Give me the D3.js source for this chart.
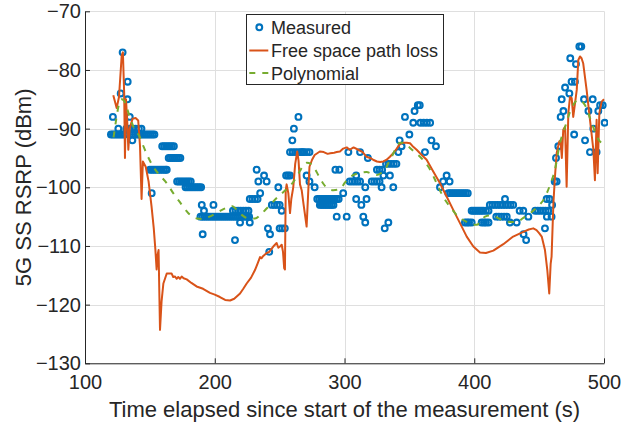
<!DOCTYPE html>
<html>
<head>
<meta charset="utf-8">
<title>5G SS RSRP</title>
<script src="https://d3js.org/d3.v7.min.js"></script>
<style>
  body { margin: 0; background: #fff; }
  text { font-family: "Liberation Sans", Arial, sans-serif; fill: #262626; }
</style>
</head>
<body>
<svg id="chart" width="636" height="426"></svg>
<script>
// ---- data ----
var xTicks = [100, 200, 300, 400, 500];
var yTicks = [-130, -120, -110, -100, -90, -80, -70];

// measured samples [time (s), RSRP (dBm)]
var measured = [
  [121.5,-88],[120,-91],[121.5,-91],[123,-91],[124.5,-91],[126,-91],[127.5,-91],[129,-91],[130.5,-91],
  [125.7,-90],[127.5,-84],[129,-77],[132.7,-85],[132.9,-82],[134.5,-88],[131.8,-90],[134,-90],[136.5,-90],
  [139,-90],[141.5,-90],[143.5,-90],[136.5,-92],[137,-91],[138.5,-91],[140,-91],[141.5,-91],[143,-91],
  [144.5,-91],[146,-91],[147.5,-91],[149,-91],[150.5,-91],[152,-91],[153.5,-91],
  [150,-97],[151.5,-97],[153,-97],[154.5,-97],[156,-97],[157.5,-97],[159,-97],[160.5,-97],[162,-97],[163,-97],
  [151.4,-101],
  [159.5,-93],[161,-93],[162.5,-93],[164,-93],[165.5,-93],[167,-93],[168.5,-93],
  [164.5,-95],[166,-95],[167.5,-95],[169,-95],[170.5,-95],[172,-95],[173.5,-95],
  [171,-99],[172.5,-99],[174,-99],[175.5,-99],[177,-99],[178.5,-99],[180,-99],[181.5,-99],
  [177.5,-100],[179,-100],[180.5,-100],[182,-100],[183.5,-100],[185,-100],[186.5,-100],[188,-100],[189.5,-100],
  [190,-103],[199,-103],[191.7,-104],[190.7,-108],[215.6,-109],
  [189,-105],[190.5,-105],[192,-105],[193.5,-105],[195,-105],[196.5,-105],[198,-105],[199.5,-105],[201,-105],
  [202.5,-105],[204,-105],[205.5,-105],[207,-105],[208.5,-105],[210,-105],[211.5,-105],[213,-105],[214.5,-105],
  [216,-105],[217.5,-105],[219,-105],[220.5,-105],[222,-105],[223.5,-105],[225,-105],[226.5,-105],
  [214,-104],[216,-104],[218,-104],[220,-104],[222,-104],[224,-104],[226,-104],
  [219.5,-106],[227,-106],
  [232.3,-97],[238,-98],[233.6,-99],[240,-99],[227,-102],[229,-102],[231,-102],[233,-102],[235,-101],
  [244,-103],[246,-103],[248,-103],[250,-103],[249,-100],[255,-98],[256.5,-98],[258,-98],[251.6,-104],
  [250,-107],[252,-107],[254,-107],[241,-107],[242.6,-108],[242,-111],
  [258,-94],[260,-94],[262,-94],[264,-94],[266,-94],[268,-94],[259.8,-92],[261,-90],[264.5,-88],[270.8,-98],
  [267,-94],[269,-94],[271,-94],[273,-94],[273,-99],[277,-100],
  [279,-102],[280.5,-102],[282,-102],[283.5,-102],[285,-102],[286.5,-102],[288,-102],[289.5,-102],[291,-102],
  [292.5,-102],[294,-102],[295.5,-102],
  [281,-103],[282.5,-103],[284,-103],[285.5,-103],[287,-103],[288.5,-103],[290,-103],[291.5,-103],
  [294,-105],[301.7,-105],[299,-101],[293,-97],[296,-97],[303,-94],[312,-94],[318,-95],
  [304,-99],[306,-99],[308,-99],[310,-99],[312,-99],[309,-98],[309,-102],[313,-103],[317,-102],
  [314.5,-105],[316,-106],[316,-100],[321,-99],[323,-99],[325,-99],[327,-99],[325,-97],[327,-97],[329,-97],
  [328.6,-100],[330,-98],[335,-98],[337.6,-100],[332,-96],[334,-96],[336,-96],[338,-96],[340,-96],
  [333.8,-106],[331,-107],[341.5,-94],[342.5,-92],[344,-93],[350,-91],[346.6,-88],[354,-87],[356.5,-86],
  [358,-86],[353,-89],[358.5,-89],[361,-89],[363.5,-89],[366,-89],[367,-92],[370.5,-93],[362,-94],
  [378.7,-98],[376,-99],[381,-99],[373.6,-100],
  [380,-101],[381.5,-101],[383,-101],[384.5,-101],[386,-101],[387.5,-101],[389,-101],[390.5,-101],
  [392,-101],[393.5,-101],[395,-101],
  [398,-104],[399.5,-104],[401,-104],[402.5,-104],[404,-104],[405.5,-104],[407,-104],[409,-104],
  [392.8,-106],[394.5,-106],[396,-106],[398,-106],[405.7,-106],[407.5,-106],[409,-106],[411,-106],
  [412,-103],[414,-103],[416,-103],[418,-103],[420,-103],[422,-103],[424,-103],[426,-103],[428,-103],[430,-103],
  [423.7,-102],[411,-104],
  [417,-105],[419,-105],[421,-105],[423,-105],[425,-105],
  [427.5,-106],[432.7,-106],[435,-104],[437.8,-104],[441.7,-105],[447,-104],[449,-104],[451,-104],[453,-104],
  [455,-104],[457,-104],[456,-105],[438,-108],[440,-109],[454.5,-107],[460,-103],[458,-102],
  [455.8,-102],[459.6,-105],[462,-99],[463.5,-99],[463,-95],[464.8,-93],[466.6,-88],[467.4,-85],
  [468.7,-87],[470,-83],[473.3,-84],[475,-82],[477.6,-82],[474,-78],[478.4,-79],[481,-76],[482.5,-76],
  [477,-91],[485.4,-92],[484.6,-85],[488,-87],[489.2,-94],[494.3,-94],[491.3,-85],[491.8,-90],
  [495.6,-87],[497,-86],[499,-86],[500.5,-89]
];

// free space path loss model [time (s), RSRP (dBm)]
var fspl = [
  [121.8,-84.3],[124.4,-86.5],[126.2,-84.6],[128.3,-77.5],[129.2,-77],[130.2,-84],[130.8,-95],[131.6,-85],
  [132.6,-89],[133.4,-93.6],[134.4,-90],[136.7,-88.3],[139,-88.2],[141,-88.6],[142.4,-93],[143.6,-102],
  [144.6,-95.6],[146.8,-96.5],[149,-99],[151.3,-103.3],[153,-107],[154.2,-110.5],[155.2,-114],[156,-111.5],
  [156.7,-110.7],[157.8,-124.3],[159,-119.5],[160.4,-116.4],[163,-114.7],[165,-114.7],[166.8,-114.7],
  [168,-115.3],[169.4,-115.2],[170.6,-115.6],[171.9,-115.3],[173.2,-115.6],[174.5,-115.2],[176,-115.5],
  [178.4,-115.7],[182,-116.3],[186,-116.9],[191,-117.3],[196.3,-118],[200,-118.3],[204,-118.7],[208,-119.2],
  [211.8,-119.3],[215,-119],[219.5,-118.1],[222,-117.3],[224.6,-116.4],[228,-115.4],[231,-114.1],[233,-113],
  [234.9,-111.9],[236,-112.1],[237.4,-111.7],[240,-111.2],[242,-111],[245.1,-110.1],[247.7,-109.5],
  [249,-110.3],[250.3,-110.1],[251.6,-109.8],[252.6,-111],[253.5,-113.8],[254.1,-114],[254.7,-100.5],
  [255.4,-99.5],[256.7,-101],[258,-104.4],[259,-102],[260.5,-100],[262,-96],[263.6,-93.9],[264.6,-95.5],
  [265.7,-99.5],[267,-100.5],[268.5,-103],[270.8,-106.7],[272,-101],[273,-96.5],[275,-95.3],[277,-94.5],
  [279,-94.2],[281,-93.9],[284,-94],[287,-94.3],[289,-94.2],[292,-94.1],[294,-94],[296.5,-93.9],[299,-93.4],
  [301.7,-93.2],[304,-93.6],[307,-93.2],[310.6,-93.6],[314,-94],[317,-94.8],[319.7,-95],[322,-95.3],
  [325,-95.6],[327.4,-95.7],[330,-95.6],[332.5,-95.3],[335,-94.8],[337.6,-94.2],[340,-93.5],[342.8,-92.6],
  [345.3,-92.4],[348,-92.4],[350.5,-92.5],[353,-93.1],[355.6,-93.6],[358.2,-94.2],[363.3,-95.3],
  [368.4,-97.3],[373.6,-99.3],[378.8,-101.6],[383.9,-103.9],[389,-106.1],[394.2,-108.4],[399.3,-110.1],
  [404.4,-111.1],[409,-111.2],[414.7,-110.8],[422.4,-109.7],[430,-108.4],[437.8,-107.6],[442,-107.2],
  [445.5,-107],[448,-107.3],[450,-107.8],[452,-108.4],[454.5,-110.7],[456.3,-114.1],[457.8,-118.1],
  [458.9,-113],[459.6,-111.8],[461,-102.7],[462.2,-98.2],[463.5,-94.2],[465.5,-92.2],[466.5,-92],
  [467.5,-95],[468.6,-90.2],[470,-89.7],[471.2,-99.9],[472.5,-87.4],[473.8,-84.6],[475.1,-84.8],
  [476.3,-88],[479,-83.4],[480.2,-78.3],[481.5,-77.7],[482.7,-78],[484,-78.9],[486.6,-83.4],[489.2,-88.5],
  [491.8,-93.6],[493,-98.8],[494.3,-88.5],[495.1,-97.6],[496.4,-87.4],[498.2,-85.4],[500,-85]
];

// polynomial fit [time (s), RSRP (dBm)]
var poly = [
  [122,-91.5],[124,-88.5],[126,-86],[128,-85],[130,-85.2],[132,-86.3],[135,-88.3],[138,-90],[142.4,-91.5],
  [145,-93],[149,-95],[152.6,-96.5],[157,-97.8],[163,-99.3],[168,-101],[173,-102.5],[177,-103.7],
  [181,-104.7],[186,-105.3],[191,-105.4],[196,-105],[202.7,-104.2],[208,-103.6],[213,-103.2],[217,-103.8],
  [220.8,-104.7],[226,-105.3],[231,-105.3],[236,-104.5],[241.3,-103.3],[246,-102.2],[250.3,-101.3],
  [254,-100.6],[258,-99.8],[262,-98.6],[265.7,-97.2],[268,-96.3],[271,-95.8],[274,-96],[277,-96.8],
  [280,-98],[283.7,-99.4],[287,-100.2],[291.4,-100.5],[295,-100.4],[297.8,-100],[300,-99.3],[303,-98.5],
  [306,-98],[309.4,-97.7],[313,-97.5],[317,-97.4],[321,-97.7],[324.8,-97.9],[328,-97.6],[331.2,-97],
  [334,-95.8],[336.4,-94.8],[339,-93.6],[342.8,-92.4],[346,-92.4],[350.5,-93.3],[355,-94.2],[358.2,-94.8],
  [362,-95.7],[366,-97],[371,-99.3],[376,-101.6],[381.3,-103.3],[387.7,-105],[394.2,-105.9],[398,-106.3],
  [401.9,-106.4],[405,-105.8],[408.3,-105],[412,-104.8],[416,-105],[419.8,-105.4],[424,-105.8],
  [427.5,-105.9],[432.7,-105.9],[437.8,-105.2],[444.3,-104.2],[450.7,-102.9],[453.2,-102.2],[458.4,-99.6],
  [462.2,-97],[466,-92.5],[470,-89.7],[475,-86.5],[480.2,-85.1],[485.4,-86],[489.2,-88.2],[493,-90.5],
  [496.9,-92.2],[500,-92.5]
];

var seriesNames = ['Measured', 'Free space path loss', 'Polynomial'];
var colors = ['#0072BD', '#D95319', '#77AC30'];

// ---- chart ----
var svg = d3.select('#chart');
var plotLeft = 85, plotRight = 604, plotTop = 11.3, plotBottom = 363.3;

var x = d3.scaleLinear().domain([100, 500]).range([plotLeft, plotRight]);
var y = d3.scaleLinear().domain([-130, -70]).range([plotBottom, plotTop]);

// grid
var grid = svg.append('g').attr('stroke', '#dfdfdf').attr('stroke-width', 1);
grid.selectAll('.gx').data(xTicks).enter().append('line')
    .attr('x1', function(d) { return Math.round(x(d)) + 0.5; })
    .attr('x2', function(d) { return Math.round(x(d)) + 0.5; })
    .attr('y1', plotTop).attr('y2', plotBottom);
grid.selectAll('.gy').data(yTicks).enter().append('line')
    .attr('y1', function(d) { return Math.round(y(d)) + 0.5; })
    .attr('y2', function(d) { return Math.round(y(d)) + 0.5; })
    .attr('x1', plotLeft).attr('x2', plotRight);

svg.append('clipPath').attr('id', 'clip').append('rect')
    .attr('x', plotLeft).attr('y', plotTop - 4)
    .attr('width', plotRight - plotLeft + 4).attr('height', plotBottom - plotTop + 4);

var plot = svg.append('g').attr('clip-path', 'url(#clip)');

plot.selectAll('circle').data(measured).enter().append('circle')
    .attr('cx', function(d) { return x(d[0]); })
    .attr('cy', function(d) { return y(d[1]); })
    .attr('r', 2.9)
    .attr('fill', 'none')
    .attr('stroke', colors[0])
    .attr('stroke-width', 2.1);

var line = d3.line()
    .x(function(d) { return x(d[0]); })
    .y(function(d) { return y(d[1]); });

plot.append('path').datum(fspl)
    .attr('d', line)
    .attr('fill', 'none')
    .attr('stroke', colors[1])
    .attr('stroke-width', 2)
    .attr('stroke-linejoin', 'round');

plot.append('path').datum(poly)
    .attr('d', line.curve(d3.curveMonotoneX))
    .attr('fill', 'none')
    .attr('stroke', colors[2])
    .attr('stroke-width', 2)
    .attr('stroke-dasharray', '6,7');

// axes (ticks inward, matlab style)
var xAxis = svg.append('g')
    .attr('transform', 'translate(0,' + plotBottom + ')')
    .call(d3.axisBottom(x).tickValues(xTicks).tickSizeInner(-5).tickSizeOuter(0).tickPadding(12));
var yAxis = svg.append('g')
    .attr('transform', 'translate(' + plotLeft + ',0)')
    .call(d3.axisLeft(y).tickValues(yTicks).tickSizeInner(-5).tickSizeOuter(0).tickPadding(4));

[xAxis, yAxis].forEach(function(a) {
    a.select('.domain').attr('stroke', '#262626');
    a.selectAll('.tick line').attr('stroke', '#262626');
    a.selectAll('.tick text').attr('fill', '#262626')
        .style('font-family', '"Liberation Sans", Arial, sans-serif')
        .style('font-size', '20px');
});

// axis labels
svg.append('text')
    .attr('x', (plotLeft + plotRight) / 2).attr('y', 417)
    .attr('text-anchor', 'middle')
    .style('font-size', '22px')
    .text('Time elapsed since start of the measurement (s)');

svg.append('text')
    .attr('transform', 'translate(31,' + (plotTop + plotBottom) / 2 + ') rotate(-90)')
    .attr('text-anchor', 'middle')
    .style('font-size', '22px')
    .text('5G SS RSRP (dBm)');

// legend
var legend = svg.append('g');
legend.append('rect')
    .attr('x', 246.5).attr('y', 14.5).attr('width', 197).attr('height', 70)
    .attr('fill', '#fff').attr('stroke', '#262626').attr('stroke-width', 1);

var rowY = [27.3, 50.5, 73];
legend.append('circle')
    .attr('cx', 259.3).attr('cy', rowY[0]).attr('r', 2.9)
    .attr('fill', 'none').attr('stroke', colors[0]).attr('stroke-width', 2.1);
legend.append('line')
    .attr('x1', 249.3).attr('x2', 268.3).attr('y1', rowY[1]).attr('y2', rowY[1])
    .attr('stroke', colors[1]).attr('stroke-width', 2);
legend.append('line')
    .attr('x1', 249.3).attr('x2', 268.3).attr('y1', rowY[2]).attr('y2', rowY[2])
    .attr('stroke', colors[2]).attr('stroke-width', 2).attr('stroke-dasharray', '6,7');

legend.selectAll('.lt').data(seriesNames).enter().append('text')
    .attr('x', 271)
    .attr('y', function(d, i) { return rowY[i] + 6.5; })
    .style('font-size', '18px')
    .text(function(d) { return d; });
</script>
</body>
</html>
